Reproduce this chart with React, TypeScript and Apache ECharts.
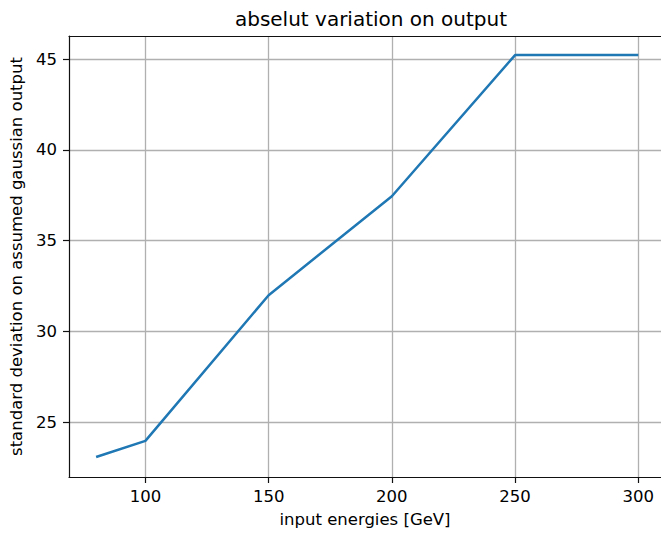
import React, { useEffect, useRef } from "react";
import * as echarts from "echarts";

const energies = [80, 100, 150, 200, 250, 300];
const deviations = [23.09, 23.98, 32.0, 37.45, 45.22, 45.22];
const xTicks = [100, 150, 200, 250, 300];
const yTicks = [25, 30, 35, 40, 45];

export default function App() {
  const ref = useRef<HTMLDivElement>(null);
  useEffect(() => {
    if (!ref.current) return;
    const chart = echarts.init(ref.current, null, { renderer: "svg" });
    const font = "DejaVu Sans";
    chart.setOption({
      animation: false,
      backgroundColor: "#ffffff",
      title: {
        text: "abselut variation on output",
        left: 366,
        textAlign: "center",
        top: 4,
        textStyle: { fontFamily: font, fontSize: 20, fontWeight: "normal", color: "#000" },
      },
      grid: {
        left: 69,
        top: 36,
        right: 0,
        bottom: 53,
        show: false,
      },
      xAxis: [
        {
          type: "value",
          min: 69,
          max: 309.2,
          name: "input energies [GeV]",
          nameLocation: "middle",
          nameGap: 34,
          nameTextStyle: { fontFamily: font, fontSize: 16.5, color: "#000" },
          axisLine: { show: true, onZero: false, lineStyle: { color: "#111", width: 1.2 } },
          axisTick: {
            show: true,
            length: 6,
            inside: false,
            customValues: xTicks,
            lineStyle: { color: "#111", width: 1.2 },
          },
          axisLabel: {
            customValues: xTicks,
            margin: 11,
            fontFamily: font,
            fontSize: 16.5,
            color: "#000",
          },
          splitLine: { show: true, lineStyle: { color: "#b0b0b0", width: 1.3 } },
        },
        {
          type: "value",
          position: "top",
          min: 69,
          max: 309.2,
          axisLine: { show: true, onZero: false, lineStyle: { color: "#111", width: 1.2 } },
          axisTick: { show: false },
          axisLabel: { show: false },
          splitLine: { show: false },
        },
      ],
      yAxis: {
        type: "value",
        min: 21.99,
        max: 46.27,
        name: "standard deviation on assumed gaussian output",
        nameLocation: "middle",
        nameGap: 42,
        nameTextStyle: { fontFamily: font, fontSize: 16.5, color: "#000" },
        axisLine: { show: true, onZero: false, lineStyle: { color: "#111", width: 1.2 } },
        axisTick: {
          show: true,
          length: 6,
          inside: false,
          customValues: yTicks,
          lineStyle: { color: "#111", width: 1.2 },
        },
        axisLabel: {
          customValues: yTicks,
          margin: 12,
          fontFamily: font,
          fontSize: 16.5,
          color: "#000",
        },
        splitLine: { show: true, lineStyle: { color: "#b0b0b0", width: 1.3 } },
      },
      series: [
        {
          type: "line",
          xAxisIndex: 0,
          data: energies.map((e, i) => [e, deviations[i]]),
          showSymbol: false,
          symbol: "none",
          lineStyle: { color: "#1f77b4", width: 2.5 },
          itemStyle: { color: "#1f77b4" },
        },
      ],
    });
    return () => chart.dispose();
  }, []);
  return (
    <div
      ref={ref}
      style={{ position: "absolute", left: 0, top: 0, width: 661, height: 533, background: "#fff" }}
    />
  );
}
